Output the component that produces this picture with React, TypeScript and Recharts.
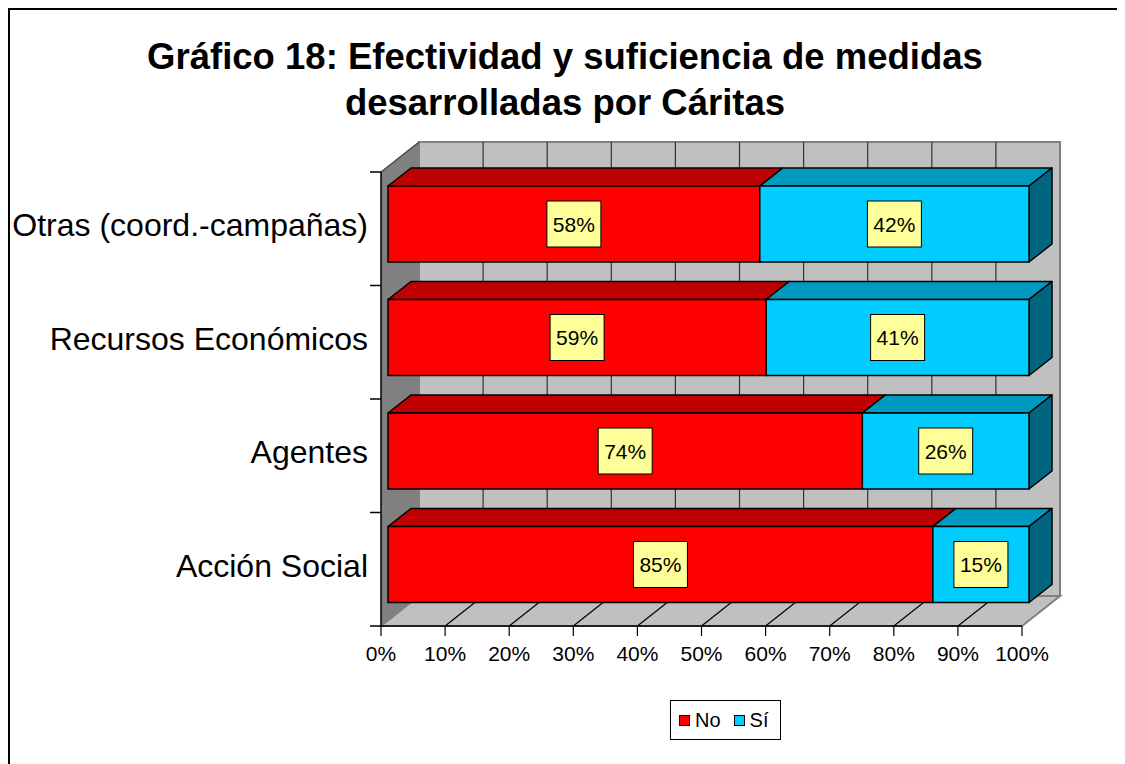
import { Bar, BarChart, LabelList, ReferenceArea, XAxis, YAxis } from "recharts";

const categorias = [
  "Otras (coord.-campañas)",
  "Recursos Económicos",
  "Agentes",
  "Acción Social",
];
const valoresNo = [58, 59, 74, 85];
const valoresSi = [42, 41, 26, 15];
const ticksX = [0, 10, 20, 30, 40, 50, 60, 70, 80, 90, 100];
const series = [
  { key: "no", nombre: "No", color: "#FF0000" },
  { key: "si", nombre: "Sí", color: "#00CCFF" },
];

const data = categorias.map((categoria, i) => ({
  categoria,
  no: valoresNo[i],
  si: valoresSi[i],
}));

const FONT = '"Liberation Sans", Arial, sans-serif';

// profundidad de las paredes (efecto 3D estilo Excel)
const DX = 38;
const DY = -30;
// desplazamiento de la cara frontal de las barras y su fondo
const BX = 7;
const BY = -5;
const BDX = 23;
const BDY = -18;

const sombras: Record<string, { sup: string; lado: string }> = {
  "#FF0000": { sup: "#BF0000", lado: "#800000" },
  "#00CCFF": { sup: "#0099BF", lado: "#006680" },
};

function Paredes(props: any) {
  const { x, y, width, height } = props;
  const right = x + width;
  const bottom = y + height;
  const banda = height / categorias.length;
  return (
    <g>
      <polygon
        points={`${x},${y} ${x + DX},${y + DY} ${x + DX},${bottom + DY} ${x},${bottom}`}
        fill="#808080"
      />
      <rect
        x={x + DX}
        y={y + DY}
        width={width}
        height={height}
        fill="#C0C0C0"
        stroke="#808080"
        strokeWidth={2}
      />
      {ticksX
        .filter((t) => t > 0 && t < 100)
        .map((t) => {
          const gx = x + (width * t) / 100 + DX;
          return (
            <line key={t} x1={gx} y1={y + DY} x2={gx} y2={bottom + DY} stroke="#333" strokeWidth={1.2} />
          );
        })}
      <polygon
        points={`${x},${bottom} ${right},${bottom} ${right + DX},${bottom + DY} ${x + DX},${bottom + DY}`}
        fill="#C0C0C0"
        stroke="#808080"
        strokeWidth={2}
      />
      {ticksX
        .filter((t) => t > 0 && t < 100)
        .map((t) => {
          const gx = x + (width * t) / 100;
          return (
            <line key={t} x1={gx} y1={bottom} x2={gx + DX} y2={bottom + DY} stroke="#000" strokeWidth={1.2} />
          );
        })}
      <line x1={x} y1={y} x2={x + DX} y2={y + DY} stroke="#404040" strokeWidth={1.2} />
      {categorias.concat([""]).map((_, i) => (
        <line
          key={i}
          x1={x - 11}
          y1={y + i * banda}
          x2={x}
          y2={y + i * banda}
          stroke="#000"
          strokeWidth={1.5}
        />
      ))}
    </g>
  );
}

function barra3D(conLado: boolean) {
  return (props: any) => {
    const { x, y, width, height, fill } = props;
    if (!width || width <= 0) return <g />;
    const fx = x + BX;
    const fy = y + BY;
    const s = sombras[fill] ?? { sup: fill, lado: fill };
    return (
      <g>
        <polygon
          points={`${fx},${fy} ${fx + BDX},${fy + BDY} ${fx + width + BDX},${fy + BDY} ${fx + width},${fy}`}
          fill={s.sup}
          stroke="#000"
          strokeWidth={1.5}
          strokeLinejoin="round"
        />
        {conLado && (
          <polygon
            points={`${fx + width},${fy} ${fx + width + BDX},${fy + BDY} ${fx + width + BDX},${fy + height + BDY} ${fx + width},${fy + height}`}
            fill={s.lado}
            stroke="#000"
            strokeWidth={1.5}
            strokeLinejoin="round"
          />
        )}
        <rect x={fx} y={fy} width={width} height={height} fill={fill} stroke="#000" strokeWidth={1.5} />
      </g>
    );
  };
}

function Etiqueta(props: any) {
  const vb = props.viewBox ?? props;
  const { x, y, width, height } = vb;
  const cx = x + width / 2 + BX;
  const cy = y + height / 2 + BY;
  return (
    <g>
      <rect x={cx - 27} y={cy - 23} width={54} height={46} fill="#FFFF99" stroke="#000" strokeWidth={1} />
      <text x={cx} y={cy + 7.5} textAnchor="middle" fontSize={21} fontFamily={FONT} fill="#000">
        {props.value}%
      </text>
    </g>
  );
}

function TickCategoria(props: any) {
  const { x, y, payload } = props;
  return (
    <text x={x} y={y - 4} dy="0.36em" textAnchor="end" fontSize={32} fontFamily={FONT} fill="#000">
      {payload.value}
    </text>
  );
}

export default function App() {
  return (
    <div
      style={{
        position: "relative",
        width: 1140,
        height: 780,
        borderLeft: "2px solid #000",
        borderTop: "2px solid #000",
        fontFamily: FONT,
        background: "#fff",
      }}
    >
      <style>{"html,body{overflow:hidden}"}</style>
      <div
        style={{
          position: "absolute",
          left: 0,
          top: 24,
          width: 1110,
          textAlign: "center",
          fontSize: 36.5,
          fontWeight: "bold",
          lineHeight: "46px",
        }}
      >
        Gráfico 18: Efectividad y suficiencia de medidas
        <br />
        desarrolladas por Cáritas
      </div>
      <BarChart
        width={1100}
        height={740}
        data={data}
        layout="vertical"
        barSize={76}
        margin={{ top: 162, right: 88, bottom: 84, left: 11 }}
      >
        <ReferenceArea x1={0} x2={100} ifOverflow="visible" shape={Paredes} zIndex={-50} />
        <XAxis
          type="number"
          domain={[0, 100]}
          ticks={ticksX}
          interval={0}
          tickFormatter={(v) => `${v}%`}
          axisLine={{ stroke: "#000", strokeWidth: 1.5 }}
          tickLine={{ stroke: "#000", strokeWidth: 1.2 }}
          tickSize={10}
          tickMargin={10}
          tick={{ fill: "#000", fontSize: 21, fontFamily: FONT }}
          height={40}
        />
        <YAxis
          type="category"
          dataKey="categoria"
          width={360}
          interval={0}
          axisLine={{ stroke: "#000", strokeWidth: 1.5 }}
          tickLine={false}
          tickSize={0}
          tickMargin={13}
          tick={<TickCategoria />}
        />
        <Bar dataKey="no" stackId="a" fill="#FF0000" isAnimationActive={false} shape={barra3D(false)}>
          <LabelList dataKey="no" content={<Etiqueta />} />
        </Bar>
        <Bar dataKey="si" stackId="a" fill="#00CCFF" isAnimationActive={false} shape={barra3D(true)}>
          <LabelList dataKey="si" content={<Etiqueta />} />
        </Bar>
      </BarChart>
      <div
        style={{
          position: "absolute",
          left: 660,
          top: 690,
          width: 111,
          height: 40,
          border: "1px solid #000",
          display: "flex",
          alignItems: "center",
          paddingLeft: 8,
          boxSizing: "border-box",
          fontSize: 20,
        }}
      >
        {series.map((s, i) => (
          <span key={s.key} style={{ display: "flex", alignItems: "center", marginLeft: i ? 13 : 0 }}>
            <span
              style={{
                display: "inline-block",
                width: 9,
                height: 9,
                background: s.color,
                border: "1px solid #000",
                marginRight: 5,
              }}
            />
            {s.nombre}
          </span>
        ))}
      </div>
    </div>
  );
}
